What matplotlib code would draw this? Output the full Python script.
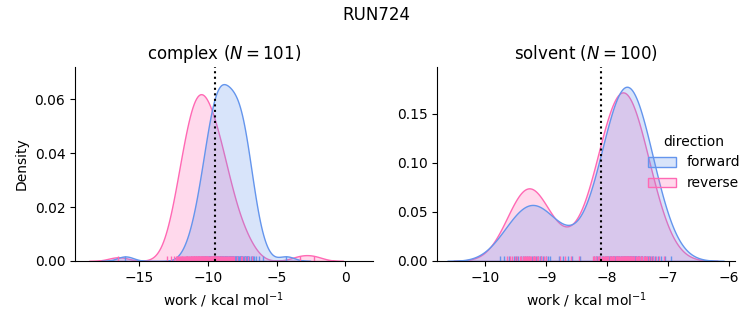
import numpy as np
import pandas as pd
import seaborn as sns
import matplotlib
matplotlib.use("Agg")
import matplotlib.pyplot as plt

# work values (kcal/mol) per phase and direction, reverse already sign-flipped
complex_forward = [-16.0,
    -11.53, -11.20, -10.99, -10.84, -10.73, -10.62, -10.50,
    -10.43, -10.37, -10.31, -10.24, -10.18, -10.12, -10.06,
    -10.00, -9.95, -9.92, -9.87, -9.83, -9.79, -9.74, -9.71, -9.66, -9.62,
    -9.58, -9.54, -9.51, -9.47, -9.44, -9.41, -9.37, -9.34, -9.30, -9.26, -9.23, -9.20,
    -9.15, -9.12, -9.08, -9.05, -9.02, -8.99, -8.96, -8.93, -8.89, -8.83, -8.79, -8.76,
    -8.73, -8.69, -8.66, -8.62, -8.58, -8.51, -8.49, -8.45, -8.41, -8.38, -8.34,
    -8.29, -8.26, -8.22, -8.18, -8.14, -8.10, -8.06, -8.03, -7.99, -7.95, -7.91,
    -7.87, -7.83, -7.79, -7.75, -7.70, -7.66, -7.62, -7.60, -7.57, -7.54, -7.49,
    -7.43, -7.37, -7.32, -7.29, -7.27, -7.21, -7.15, -7.12, -7.10, -7.05,
    -6.99, -6.90, -6.82, -6.73, -6.64, -6.48, -6.29, -5.97,
    -4.3]
complex_reverse = [-16.5,
    -12.98, -12.67, -12.48, -12.35, -12.27, -12.19, -12.11, -12.03,
    -11.96, -11.91, -11.85, -11.79, -11.74, -11.68, -11.62,
    -11.58, -11.53, -11.49, -11.44, -11.40, -11.35, -11.31, -11.26, -11.22,
    -11.18, -11.14, -11.11, -11.07, -11.04, -11.00, -10.96, -10.93, -10.89, -10.86, -10.82,
    -10.78, -10.75, -10.71, -10.68, -10.64, -10.60, -10.57, -10.53, -10.50, -10.45, -10.42,
    -10.39, -10.35, -10.32, -10.28, -10.24, -10.21, -10.17, -10.14, -10.10, -10.06, -10.03,
    -9.98, -9.95, -9.88, -9.80, -9.77, -9.73, -9.70, -9.66, -9.62,
    -9.59, -9.54, -9.50, -9.45, -9.41, -9.36, -9.32, -9.27, -9.23,
    -9.18, -9.13, -9.07, -9.01, -8.96, -8.89, -8.84,
    -8.78, -8.70, -8.62, -8.53, -8.45, -8.36, -8.30, -8.26, -8.16, -8.07,
    -7.91, -7.60, -7.55, -7.32, -7.10, -6.78,
    -3.3, -2.3]
solvent_forward = [
    -9.76, -9.69, -9.62, -9.53, -9.50, -9.46, -9.42, -9.39, -9.35, -9.31, -9.28, -9.24,
    -9.20, -9.17, -9.14, -9.11, -9.08, -9.05, -9.01, -8.97, -8.94, -8.79, -8.72, -8.64,
    -8.58, -8.45, -8.22, -8.18, -8.16, -8.14, -8.11, -8.09, -8.07,
    -8.04, -8.02, -8.00, -7.99, -7.97, -7.95,
    -7.94, -7.93, -7.91, -7.90, -7.89, -7.88, -7.87, -7.85, -7.84,
    -7.83, -7.82, -7.81, -7.80, -7.78, -7.77, -7.75, -7.74, -7.73,
    -7.72, -7.71, -7.70, -7.69, -7.68, -7.67, -7.66, -7.65, -7.64, -7.63,
    -7.62, -7.61, -7.60, -7.59, -7.58, -7.57, -7.56, -7.55, -7.54, -7.53, -7.52,
    -7.50, -7.49, -7.48, -7.47, -7.45, -7.44, -7.43, -7.42,
    -7.40, -7.38, -7.37, -7.35, -7.33, -7.31,
    -7.29, -7.27, -7.24, -7.22, -7.17, -7.12, -7.05, -6.95]
solvent_reverse = [
    -9.65, -9.60, -9.57, -9.52, -9.48, -9.43, -9.41, -9.39, -9.37, -9.35, -9.33, -9.31,
    -9.30, -9.28, -9.26, -9.25, -9.22, -9.20, -9.18, -9.16, -9.13, -9.09, -9.08, -9.04,
    -9.01, -8.78, -8.70, -8.60,
    -8.47, -8.24, -8.22, -8.19, -8.18, -8.15, -8.13, -8.11, -8.09,
    -8.07, -8.05, -8.03, -8.02, -8.01, -7.99, -7.98,
    -7.96, -7.95, -7.94, -7.92, -7.91, -7.90, -7.89, -7.88, -7.86,
    -7.85, -7.84, -7.83, -7.82, -7.81, -7.79, -7.78, -7.76, -7.75,
    -7.74, -7.73, -7.73, -7.71, -7.70, -7.69, -7.68, -7.68, -7.67, -7.66, -7.65,
    -7.64, -7.62, -7.62, -7.61, -7.60, -7.59, -7.58, -7.56, -7.56,
    -7.52, -7.51, -7.50, -7.48, -7.47, -7.45, -7.45,
    -7.42, -7.40, -7.38, -7.36, -7.34, -7.31, -7.28, -7.24, -7.19, -7.14, -7.06]

# free energy estimates (dotted lines)
phases = ["complex", "solvent"]
n_pairs = [101, 100]
delta_f = [-9.5, -8.1]

rows = []
for phase, fwd, rev in [("complex", complex_forward, complex_reverse),
                        ("solvent", solvent_forward, solvent_reverse)]:
    rows += [(phase, "forward", w) for w in fwd]
    rows += [(phase, "reverse", w) for w in rev]
df = pd.DataFrame(rows, columns=["phase", "direction", "work"])

palette = {"forward": "cornflowerblue", "reverse": "hotpink"}
g = sns.displot(data=df, x="work", hue="direction", col="phase", kind="kde",
                fill=True, rug=True, palette=palette,
                hue_order=["forward", "reverse"], col_order=phases,
                facet_kws=dict(sharex=False, sharey=False))

fig = g.figure
fig.set_size_inches(7.53, 3.25)
fig.subplots_adjust(left=0.0996, right=0.976, bottom=0.197, top=0.794, wspace=0.218)

xlims = [(-19.66, 1.97), (-10.79, -5.9)]
ylims = [(0, 0.0719), (0, 0.198)]
for i, ax in enumerate(g.axes.flat):
    ax.axvline(delta_f[i], color="k", ls=":", lw=1.5)
    ax.set_title(f"{phases[i]} ($N = {n_pairs[i]}$)")
    ax.set_xlabel("work / kcal mol$^{-1}$")
    ax.set_xlim(*xlims[i])
    ax.set_ylim(*ylims[i])

fig.suptitle("RUN724")
fig.savefig("out.png", dpi=100)
